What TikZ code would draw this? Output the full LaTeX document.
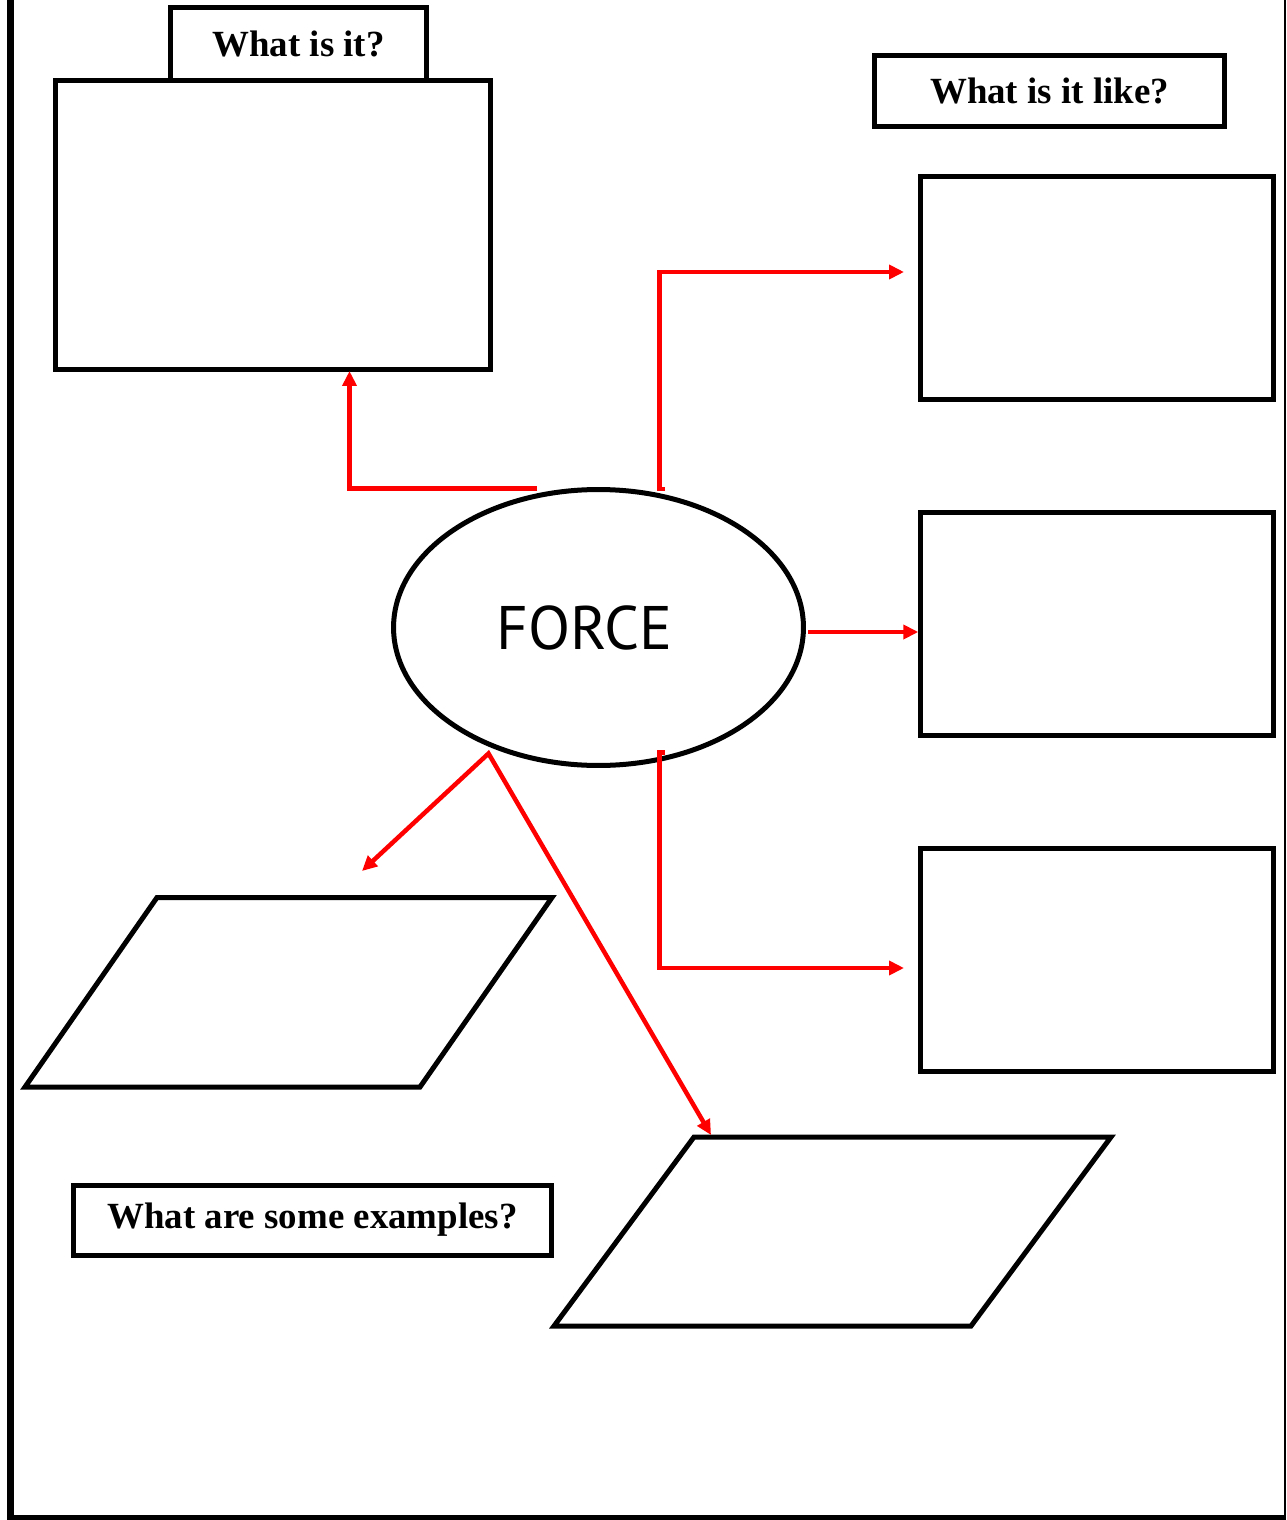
\documentclass[tikz,border=0pt]{standalone}
\usepackage{fontspec}
\setmainfont{Liberation Serif}
\newfontfamily\forcefont{PT Sans}
\usetikzlibrary{arrows.meta, shapes.geometric}
\definecolor{cred}{HTML}{FF0000}

\begin{document}
\begin{tikzpicture}[
  x=0.02cm, y=-0.02cm,
  >={Triangle[length=0.3cm, width=0.28cm]},
  box/.style={draw, line width=0.1cm, inner sep=0pt},
  tag/.style={box, font=\fontsize{21}{25}\selectfont\bfseries},
  arr/.style={->, line width=0.09cm, cred, line join=miter}
]
  \useasboundingbox (0,0) rectangle (1286,1520);

  % page frame
  \draw[line width=0.14cm] (10.5,0) -- (10.5,1520);
  \draw[line width=0.1cm] (7,1517.5) -- (1286,1517.5);
  \draw[line width=0.04cm] (1285,0) -- (1285,1520);

  % what is it?
  \node[box, minimum width=8.7cm, minimum height=5.8cm] (defbox) at (273,225) {};
  \node[tag, minimum width=5.13cm, minimum height=1.45cm] (whatis) at (298.5,44) {What is it?};

  % what is it like?
  \node[tag, minimum width=7.02cm, minimum height=1.42cm] (likeis) at (1049.5,91) {What is it like?};
  \node[box, minimum width=7.05cm, minimum height=4.45cm] (prop1) at (1097,288) {};
  \node[box, minimum width=7.05cm, minimum height=4.45cm] (prop2) at (1097,624) {};
  \node[box, minimum width=7.05cm, minimum height=4.45cm] (prop3) at (1097,960) {};

  % centre
  \node[box, ellipse, minimum width=8.2cm, minimum height=5.52cm,
        font=\forcefont\fontsize{35}{40}\selectfont] (force) at (598.5,627.5) {FORCE\kern0.55cm};

  % examples
  \draw[box] (157,897.5) -- (552,897.5) -- (420,1087) -- (25,1087) -- cycle;
  \draw[box] (694,1137) -- (1111,1137) -- (971,1326) -- (554,1326) -- cycle;
  \node[tag, minimum width=9.56cm, minimum height=1.4cm] (exlist) at (312.5,1220) {What are some examples?};

  % connectors
  \coordinate (a1) at (537,488.5);
  \coordinate (t1) at (349.5,371);
  \coordinate (a2) at (665,489);
  \coordinate (t2) at (904,272);
  \coordinate (a3) at (808,632);
  \coordinate (a4) at (665,752.5);
  \coordinate (t4) at (904,968);
  \coordinate (split) at (488.5,753.5);
  \coordinate (t5) at (362,871);
  \coordinate (t6) at (711,1135);

  \draw[arr] (a1) -| (t1);
  \draw[arr] (a2) -- (659.5,489) |- (t2);
  \draw[arr] (a3) -- (a3 -| prop2.west);
  \draw[arr] (a4) -- (659.5,752.5) |- (t4);
  \draw[arr, <->] (t5) -- (split) -- (t6);
\end{tikzpicture}
\end{document}
